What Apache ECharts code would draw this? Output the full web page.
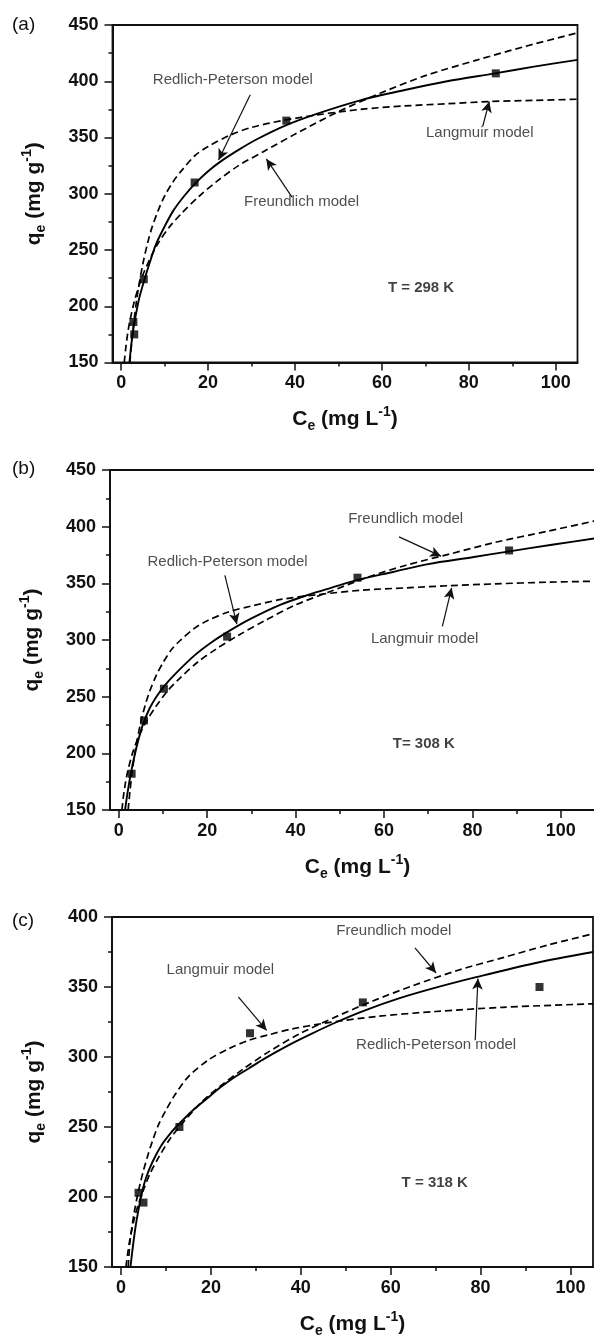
<!DOCTYPE html>
<html>
<head>
<meta charset="utf-8">
<title>Adsorption isotherms</title>
<script src="https://cdn.jsdelivr.net/npm/echarts@6/dist/echarts.min.js"></script>
<style>
html, body { margin: 0; padding: 0; background: #fff; }
#container { width: 594px; height: 1340px; }
</style>
</head>
<body>
<div id="container"></div>
<script>
// tick values
var xTicks = [0, 20, 40, 60, 80, 100];
var xMinorTicks = [10, 30, 50, 70, 90];

// (a) T = 298 K : experimental points
var ceA = [2.8, 3.0, 5.2, 16.9, 38.0, 86.2];
var qeA = [186, 175, 224, 310, 365, 407];
// (a) model curves
var rpCeA = [1.9, 2.3, 2.8, 3.5, 4.2, 5.3, 6.5, 8, 10, 12, 14.5, 17, 20, 23, 27, 31, 38, 45, 55, 65, 75, 86, 95, 105];
var rpQeA = [150, 165, 180, 195, 208, 223, 238, 255, 271, 285, 298, 309, 320, 329, 339, 348, 361, 371, 383, 392, 400, 407, 413, 419];
var frCeA = [0.7, 1, 1.5, 2, 3, 4, 5, 6.5, 8.5, 11, 14, 18, 22, 27, 33, 40, 50, 60, 70, 82, 93, 105];
var frQeA = [150, 161, 176, 187, 204, 217, 228, 241, 256, 270, 283, 298, 311, 325, 338, 353, 373, 390, 405, 419, 431, 443];
var laCeA = [2, 2.5, 3, 3.5, 4, 5, 6, 7, 8.5, 10, 12, 14, 17, 20, 25, 30, 37, 45, 55, 65, 75, 85, 95, 105];
var laQeA = [150, 171, 189, 204, 217, 238, 255, 269, 285, 298, 311, 321, 334, 342, 352, 359, 365, 370, 375, 378, 380, 382, 383, 384];

// (b) T = 308 K
var ceB = [2.9, 5.7, 10.2, 24.5, 54.0, 88.3];
var qeB = [182, 229, 257, 303, 355, 379];
var rpCeB = [1.4, 2, 2.7, 3.5, 4.5, 5.5, 7, 8.5, 10.4, 13, 17, 21, 25, 30, 36.5, 43, 48, 54, 62, 70, 80, 88, 98, 110];
var rpQeB = [150, 166, 182, 197, 213, 226, 240, 250, 260, 271, 286, 298, 308, 319, 331, 340, 346, 353, 360, 367, 373, 378, 384, 391];
var frCeB = [0.7, 1, 1.5, 2, 3, 4, 5, 6.5, 8.5, 11, 14, 18, 22, 27, 33, 40, 48, 56, 65, 75, 85, 97, 110];
var frQeB = [150, 161, 174, 184, 199, 210, 219, 230, 242, 255, 267, 281, 292, 304, 317, 331, 343, 355, 366, 376, 386, 396, 407];
var laCeB = [2.1, 2.5, 3, 3.5, 4, 5, 6, 7, 8.5, 10, 12, 14, 17, 20, 25, 30, 37, 45, 55, 65, 75, 85, 97, 110];
var laQeB = [150, 166, 183, 197, 209, 228, 243, 255, 269, 280, 292, 300, 310, 317, 325, 330, 336, 340, 344, 346, 348, 349.5, 351, 352];

// (c) T = 318 K
var ceC = [3.9, 5.0, 13.0, 28.7, 53.8, 93.1];
var qeC = [203, 196, 250, 317, 339, 350];
var rpCeC = [2.1, 2.7, 3.3, 3.9, 4.5, 5.5, 7, 9, 11, 13, 16, 19, 22, 25, 28.5, 32, 37, 42, 48, 54, 62, 70, 79, 92, 105];
var rpQeC = [150, 166, 180, 191, 201, 213, 225, 237, 245.5, 252.5, 262, 270, 278, 285, 292, 299, 308, 316, 325, 333, 342, 349.5, 357, 367, 375];
var frCeC = [1.1, 1.5, 2, 3, 4, 5, 6.5, 8.5, 11, 14, 18, 22, 27, 33, 40, 48, 56, 65, 75, 85, 95, 105];
var frQeC = [150, 160, 170, 185, 196, 205, 217, 229, 242, 254, 268, 279, 291, 304, 317, 329, 340, 351, 362, 371, 380, 388];
var laCeC = [1.6, 2, 2.5, 3, 3.6, 4.3, 5, 6, 7, 8.4, 10, 12, 15, 19.5, 24, 28.5, 33, 38, 45, 57, 70, 85, 105];
var laQeC = [150, 168, 180, 190, 200, 210, 219, 230, 240, 252, 262, 273, 286, 298, 306, 312, 316, 320, 324, 329, 332.5, 335.5, 338];

var FONT = '"Liberation Sans", Arial, Helvetica, sans-serif';
var INK = '#111';

function zip(xs, ys) {
    return xs.map(function (x, i) { return [x, ys[i]]; });
}

var panels = [
    {
        tag: '(a)', tagTop: 15, temp: 'T = 298 K', tempAt: [69, 216],
        grid: { left: 112.5, top: 25, width: 465, height: 337.5 },
        xMax: 105, yMax: 450,
        pts: [ceA, qeA], rp: [rpCeA, rpQeA], fr: [frCeA, frQeA], la: [laCeA, laQeA],
        notes: [
            { text: 'Redlich-Peterson model', at: [25.7, 401], from: [29.7, 388], to: [22.4, 330] },
            { text: 'Freundlich model', at: [41.5, 293], from: [39.3, 297], to: [33.4, 331] },
            { text: 'Langmuir model', at: [82.5, 354], from: [83.2, 360], to: [84.7, 382] }
        ]
    },
    {
        tag: '(b)', tagTop: 459, temp: 'T= 308 K', tempAt: [69, 208],
        grid: { left: 110, top: 470, width: 495, height: 340 },
        xMax: 110, yMax: 450,
        pts: [ceB, qeB], rp: [rpCeB, rpQeB], fr: [frCeB, frQeB], la: [laCeB, laQeB],
        notes: [
            { text: 'Redlich-Peterson model', at: [24.6, 369], from: [24.0, 357], to: [26.7, 314] },
            { text: 'Freundlich model', at: [64.9, 407], from: [63.4, 391], to: [72.9, 374] },
            { text: 'Langmuir model', at: [69.2, 301], from: [73.2, 312], to: [75.3, 346] }
        ]
    },
    {
        tag: '(c)', tagTop: 911, temp: 'T = 318 K', tempAt: [69.8, 210],
        grid: { left: 112, top: 917, width: 481, height: 350 },
        xMax: 105, yMax: 400,
        pts: [ceC, qeC], rp: [rpCeC, rpQeC], fr: [frCeC, frQeC], la: [laCeC, laQeC],
        notes: [
            { text: 'Langmuir model', at: [22.1, 362], from: [26.1, 343], to: [32.4, 319] },
            { text: 'Freundlich model', at: [60.7, 390], from: [65.4, 378], to: [70.1, 360] },
            { text: 'Redlich-Peterson model', at: [70.1, 309], from: [78.8, 312], to: [79.4, 356] }
        ]
    }
];

var nameRich = {
    b: { fontSize: 21, fontWeight: 'bold', color: INK, fontFamily: FONT, lineHeight: 28 },
    s: { fontSize: 14, fontWeight: 'bold', color: INK, fontFamily: FONT, lineHeight: 12, verticalAlign: 'bottom' },
    p: { fontSize: 14, fontWeight: 'bold', color: INK, fontFamily: FONT, lineHeight: 12, verticalAlign: 'top' }
};
var axisLineStyle = { color: INK, width: 2 };
var tickLabel = { fontSize: 18, fontWeight: 'bold', color: INK, fontFamily: FONT };

var option = {
    animation: false,
    backgroundColor: '#fff',
    title: [],
    grid: [],
    xAxis: [],
    yAxis: [],
    series: []
};

panels.forEach(function (p, i) {
    option.title.push({
        text: p.tag, left: 12, top: p.tagTop, padding: 0,
        textStyle: { fontSize: 19, fontWeight: 'normal', color: INK, fontFamily: FONT }
    });
    option.grid.push({
        left: p.grid.left, top: p.grid.top, width: p.grid.width, height: p.grid.height,
        containLabel: false, outerBoundsMode: 'none',
        show: true, borderColor: INK, borderWidth: 1.8, backgroundColor: 'transparent'
    });
    // main x axis with labels and major ticks
    option.xAxis.push({
        gridIndex: i, type: 'value', min: -2, max: p.xMax, position: 'bottom',
        name: '{b|C}{s|e}{b| (mg L}{p|-1}{b|)}', nameLocation: 'middle', nameGap: 43,
        nameTextStyle: { rich: nameRich },
        axisLine: { show: true, onZero: false, lineStyle: axisLineStyle },
        axisTick: { show: true, length: 8, customValues: xTicks, lineStyle: { color: INK, width: 1.5 } },
        axisLabel: Object.assign({ customValues: xTicks, margin: 12 }, tickLabel),
        splitLine: { show: false }
    });
    // second x axis only for the minor ticks
    option.xAxis.push({
        gridIndex: i, type: 'value', min: -2, max: p.xMax, position: 'bottom',
        axisLine: { show: false, onZero: false },
        axisTick: { show: true, length: 4, customValues: xMinorTicks, lineStyle: { color: INK, width: 1.5 } },
        axisLabel: { show: false },
        splitLine: { show: false }
    });
    option.yAxis.push({
        gridIndex: i, type: 'value', min: 150, max: p.yMax, interval: 50,
        name: '{b|q}{s|e}{b| (mg g}{p|-1}{b|)}', nameLocation: 'middle', nameGap: 64,
        nameTextStyle: { rich: nameRich },
        axisLine: { show: true, onZero: false, lineStyle: axisLineStyle },
        axisTick: { show: true, length: 8, lineStyle: { color: INK, width: 1.5 } },
        minorTick: { show: true, splitNumber: 2, length: 4, lineStyle: { color: INK, width: 1.5 } },
        axisLabel: Object.assign({ margin: 14 }, tickLabel),
        splitLine: { show: false },
        minorSplitLine: { show: false }
    });

    var xi = i * 2;
    option.series.push({
        name: 'Redlich-Peterson', type: 'line', xAxisIndex: xi, yAxisIndex: i,
        data: zip(p.rp[0], p.rp[1]), showSymbol: false, smooth: 0.3, silent: true,
        lineStyle: { color: '#000', width: 1.9, type: 'solid' }
    });
    option.series.push({
        name: 'Freundlich', type: 'line', xAxisIndex: xi, yAxisIndex: i,
        data: zip(p.fr[0], p.fr[1]), showSymbol: false, smooth: 0.3, silent: true,
        lineStyle: { color: '#000', width: 1.7, type: [7, 4] }
    });
    option.series.push({
        name: 'Langmuir', type: 'line', xAxisIndex: xi, yAxisIndex: i,
        data: zip(p.la[0], p.la[1]), showSymbol: false, smooth: 0.3, silent: true,
        lineStyle: { color: '#000', width: 1.7, type: [7, 4] }
    });
    option.series.push({
        name: 'experimental', type: 'scatter', xAxisIndex: xi, yAxisIndex: i,
        data: zip(p.pts[0], p.pts[1]), symbol: 'rect', symbolSize: 8, z: 5,
        itemStyle: { color: '#000' }
    });
    // text notes and arrows
    var labels = p.notes.map(function (n) { return { value: n.at, name: n.text }; });
    labels.push({ value: p.tempAt, name: p.temp, label: { fontWeight: 'bold', color: INK } });
    option.series.push({
        name: 'notes', type: 'scatter', xAxisIndex: xi, yAxisIndex: i,
        data: labels, symbolSize: 0, silent: true, z: 6,
        itemStyle: { color: 'transparent' },
        label: { show: true, position: 'inside', formatter: '{b}', fontSize: 15, color: '#222', fontFamily: FONT },
        markLine: {
            silent: true, symbol: ['none', 'arrow'], symbolSize: [8, 11],
            label: { show: false },
            lineStyle: { color: INK, width: 1.2, type: 'solid' },
            data: p.notes.map(function (n) { return [{ coord: n.from }, { coord: n.to }]; })
        }
    });
});

var myChart = echarts.init(document.getElementById('container'));
myChart.setOption(option, true);
</script>
</body>
</html>
